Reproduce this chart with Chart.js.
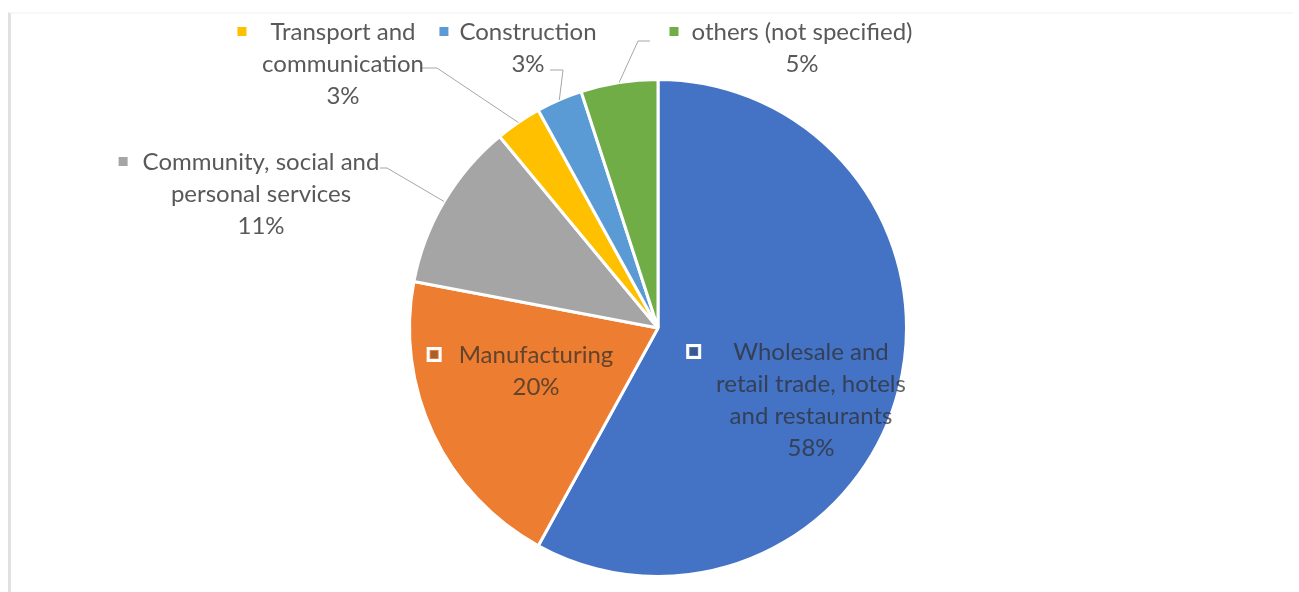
<!DOCTYPE html>
<html>
<head>
<meta charset="utf-8">
<script src="https://cdn.jsdelivr.net/npm/chart.js@4/dist/chart.umd.min.js"></script>
<style>
  html, body { margin: 0; padding: 0; background: #fff; }
  #wrap { position: relative; width: 1299px; height: 592px; }
  #frame {
    position: absolute; left: 8px; top: 12px; right: 6px; bottom: 0;
    border-left: 3px solid #e1e1e1; border-top: 2px solid #f7f7f7;
  }
  #chart { position: absolute; left: 0; top: 0; filter: blur(0.4px); }
</style>
</head>
<body>
<div id="wrap">
  <div id="frame"></div>
  <canvas id="chart" width="1299" height="592"></canvas>
</div>
<script>
// sector shares (%)
const categories = [
    'Wholesale and retail trade, hotels and restaurants',
    'Manufacturing',
    'Community, social and personal services',
    'Transport and communication',
    'Construction',
    'others (not specified)'
];
const shares = [58, 20, 11, 3, 3, 5];
const sliceColors = ['#4472c4', '#ed7d31', '#a5a5a5', '#ffc000', '#5b9bd5', '#70ad47'];

// how each category name is wrapped in its data label
const labelLines = [
    ['Wholesale and', 'retail trade, hotels', 'and restaurants'],
    ['Manufacturing'],
    ['Community, social and', 'personal services'],
    ['Transport and', 'communication'],
    ['Construction'],
    ['others (not specified)']
];

// label placement relative to the pie centre; leader = elbow points of the callout line
const labelLayout = [
    { dx: 153, dy: 24, inside: true, gap: 32 },
    { dx: -122, dy: 27, inside: true, gap: 17 },
    { dx: -397, dy: -166, gap: 15, leader: [[-278, -160], [-271, -160]] },
    { dx: -315, dy: -296, gap: 24, leader: [[-238, -260], [-221, -260]] },
    { dx: -130, dy: -296, gap: 11, leader: [[-108, -258], [-95, -258]] },
    { dx: 144, dy: -296, gap: 13, leader: [[-8, -287], [-20, -287]] }
];

const FONT = '24px Lato';
const LINE_H = 32;

const dataLabels = {
    id: 'dataLabels',
    afterDatasetsDraw(chart) {
        const ctx = chart.ctx;
        const meta = chart.getDatasetMeta(0);
        ctx.save();
        ctx.font = FONT;
        ctx.textAlign = 'center';
        ctx.textBaseline = 'middle';
        meta.data.forEach((arc, i) => {
            const p = arc.getProps(['x', 'y', 'startAngle', 'endAngle', 'outerRadius'], true);
            const lay = labelLayout[i];
            const cx = p.x + lay.dx;
            const cy = p.y + lay.dy;
            const lines = labelLines[i].concat([shares[i] + '%']);

            // callout line from the label to the middle of the slice's rim
            if (lay.leader) {
                const mid = (p.startAngle + p.endAngle) / 2;
                ctx.strokeStyle = '#a6a6a6';
                ctx.lineWidth = 1;
                ctx.beginPath();
                ctx.moveTo(p.x + lay.leader[0][0], p.y + lay.leader[0][1]);
                ctx.lineTo(p.x + lay.leader[1][0], p.y + lay.leader[1][1]);
                ctx.lineTo(p.x + Math.cos(mid) * p.outerRadius, p.y + Math.sin(mid) * p.outerRadius);
                ctx.stroke();
            }

            // legend key in front of the first line
            const w0 = ctx.measureText(lines[0]).width;
            const left = cx - w0 / 2 - lay.gap;
            if (lay.inside) {
                ctx.fillStyle = '#ffffff';
                ctx.fillRect(left - 15, cy - 8, 15, 15);
                ctx.fillStyle = sliceColors[i];
                ctx.fillRect(left - 12, cy - 5, 9, 9);
                ctx.fillStyle = 'rgba(40,40,40,0.35)';
                ctx.fillRect(left - 11, cy - 4, 7, 7);
            } else {
                ctx.fillStyle = sliceColors[i];
                ctx.fillRect(left - 9, cy - 5, 9, 9);
            }

            ctx.fillStyle = lay.inside ? 'rgba(45,45,45,0.72)' : '#595959';
            lines.forEach((t, k) => ctx.fillText(t, cx, cy + k * LINE_H));
        });
        ctx.restore();
    }
};

new Chart(document.getElementById('chart'), {
    type: 'pie',
    data: {
        labels: categories,
        datasets: [{
            data: shares,
            backgroundColor: sliceColors,
            borderColor: '#ffffff',
            borderWidth: 3
        }]
    },
    options: {
        responsive: false,
        animation: false,
        layout: { padding: { top: 78, bottom: 14, left: 408, right: 391 } },
        plugins: {
            legend: { display: false },
            tooltip: { enabled: false }
        }
    },
    plugins: [dataLabels]
});
</script>
</body>
</html>
